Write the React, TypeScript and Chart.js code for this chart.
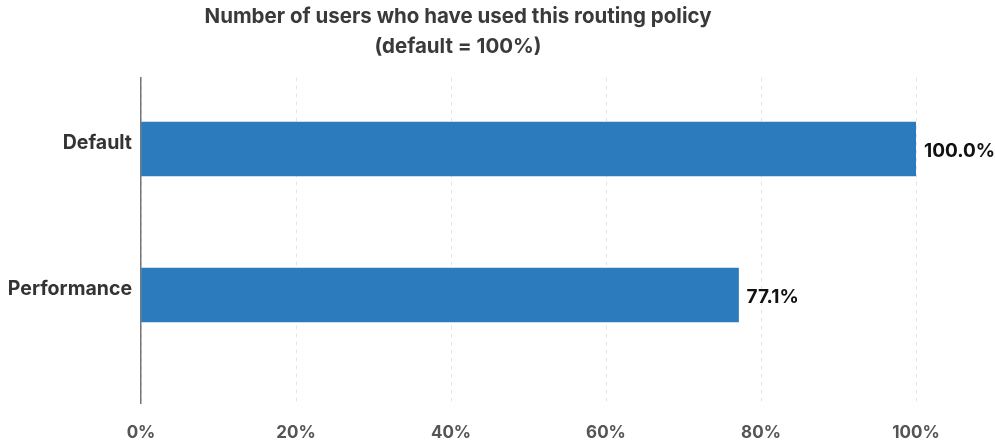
import React, { useEffect, useRef } from "react";
import { Chart, registerables } from "chart.js";

Chart.register(...registerables);

const categories = ["Default", "Performance"];
const values = [100.0, 77.1];
const xTicks = [0, 20, 40, 60, 80, 100];
const titleLines = ["Number of users who have used this routing policy", "(default = 100%)"];

const FONT = "Inter, 'Noto Sans', sans-serif";

const labelPlugin = {
  id: "barLabels",
  afterDatasetsDraw(chart: any) {
    const { ctx } = chart;
    const meta = chart.getDatasetMeta(0);
    ctx.save();
    ctx.font = `bold 19px ${FONT}`;
    ctx.fillStyle = "#111111";
    ctx.textAlign = "left";
    ctx.textBaseline = "middle";
    meta.data.forEach((bar: any, i: number) => {
      ctx.fillText(values[i].toFixed(1) + "%", bar.x + 8, bar.y + 2);
    });
    ctx.restore();
  },
};

export default function App() {
  const ref = useRef<HTMLCanvasElement | null>(null);
  useEffect(() => {
    document.body.style.margin = "0";
    const canvas = ref.current!;
    const chart = new Chart(canvas, {
      type: "bar",
      data: {
        datasets: [
          {
            data: values.map((v, i) => ({ x: v, y: i })),
            backgroundColor: "#2c7bbd",
            borderWidth: 0,
            barThickness: 54,
          },
        ],
      },
      plugins: [labelPlugin],
      options: {
        indexAxis: "y",
        animation: false,
        responsive: false,
        devicePixelRatio: 1,
        layout: { padding: { left: 0, right: 79, top: 0, bottom: 0 } },
        plugins: {
          legend: { display: false },
          tooltip: { enabled: false },
          title: {
            display: true,
            text: titleLines,
            color: "#3a3a3a",
            font: { family: FONT, size: 20.5, weight: "bold", lineHeight: 1.45 },
            padding: { top: 2, bottom: 16 },
          },
        },
        scales: {
          x: {
            type: "linear",
            min: 0,
            max: 100,
            afterBuildTicks: (s: any) => {
              s.ticks = xTicks.map((v) => ({ value: v }));
            },
            afterFit: (s: any) => {
              s.height = 40;
            },
            ticks: {
              callback: (v: any) => v + "%",
              color: "#555555",
              font: { family: FONT, size: 17, weight: "bold" },
              padding: 20,
            },
            grid: {
              color: "#e6e6e6",
              lineWidth: 1,
              drawTicks: false,
            },
            border: { display: false, dash: [4, 4] },
          },
          y: {
            type: "linear",
            reverse: true,
            offset: false,
            min: -0.49,
            max: 1.74,
            afterBuildTicks: (s: any) => {
              s.ticks = categories.map((_, i) => ({ value: i }));
            },
            afterFit: (s: any) => {
              s.width = 141;
            },
            ticks: {
              callback: (v: any) => categories[v] ?? "",
              color: "#333333",
              font: { family: FONT, size: 19.5, weight: "bold" },
              padding: 9,
              labelOffset: -6,
            },
            grid: { display: false, drawTicks: false, offset: false },
            border: { display: true, color: "#777777", width: 1.5 },
          },
        },
      } as any,
    });
    return () => chart.destroy();
  }, []);
  return <canvas ref={ref} width={995} height={443} style={{ display: "block" }} />;
}
